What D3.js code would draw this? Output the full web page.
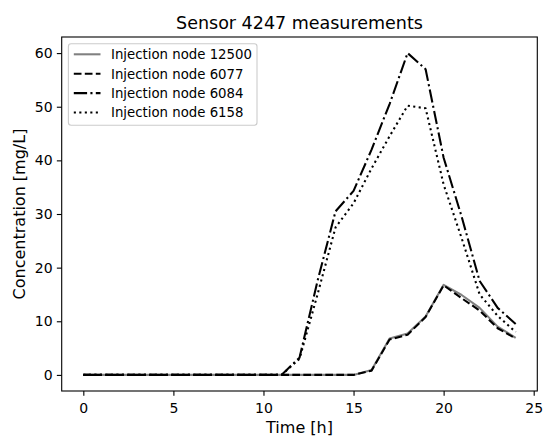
<!DOCTYPE html>
<html>
<head>
<meta charset="utf-8">
<script src="https://cdn.jsdelivr.net/npm/d3@7"></script>
<style>
html,body{margin:0;padding:0;background:#fff;}
svg{display:block;font-family:"DejaVu Sans",sans-serif;}
</style>
</head>
<body>
<svg id="chart" width="544" height="439"></svg>
<script>
const hours = [0,1,2,3,4,5,6,7,8,9,10,11,12,13,14,15,16,17,18,19,20,21,22,23,24];
const node12500 = [0,0,0,0,0,0,0,0,0,0,0,0,0,0,0,0,0.9,6.8,7.7,10.9,16.8,14.9,12.5,9.0,6.9];
const node6077  = [0,0,0,0,0,0,0,0,0,0,0,0,0,0,0,0,0.8,6.6,7.5,10.8,16.7,14.3,12.0,8.7,6.8];
const node6084  = [0,0,0,0,0,0,0,0,0,0,0,0,3.2,17.5,30.5,34.3,42.0,50.5,60.0,57.0,40.5,29.5,17.5,12.5,9.5];
const node6158  = [0,0,0,0,0,0,0,0,0,0,0,0,3.0,15.0,27.5,32.0,38.5,44.5,50.2,49.7,35.5,25.5,15.0,11.0,8.0];
const seriesNames = ["Injection node 12500","Injection node 6077","Injection node 6084","Injection node 6158"];
const xTicks = [0,5,10,15,20,25];
const yTicks = [0,10,20,30,40,50,60];

const series = [
  {name: seriesNames[0], values: node12500, color: "#808080", dash: null},
  {name: seriesNames[1], values: node6077,  color: "#000", dash: "7.7,3.3"},
  {name: seriesNames[2], values: node6084,  color: "#000", dash: "13.3,3.3,2.1,3.3"},
  {name: seriesNames[3], values: node6158,  color: "#000", dash: "2.1,3.4"}
];

const svg = d3.select("#chart");
const L = 61.7, R = 537.3, T = 37, B = 391;
const x = d3.scaleLinear().domain([-1.2, 25.2]).range([L, R]);
const y = d3.scaleLinear().domain([-3, 63]).range([B, T]);

// lines
const line = d3.line().x((d,i)=>x(hours[i])).y(d=>y(d));
const g = svg.append("g");
series.forEach(s=>{
  g.append("path").datum(s.values)
    .attr("d", line)
    .attr("fill","none")
    .attr("stroke", s.color)
    .attr("stroke-width", 2.08)
    .attr("stroke-linejoin","round")
    .attr("stroke-dasharray", s.dash);
});

// axes
const xAxis = d3.axisBottom(x).tickValues(xTicks).tickSize(4.86).tickPadding(7).tickFormat(d3.format("d"));
const yAxis = d3.axisLeft(y).tickValues(yTicks).tickSize(4.86).tickPadding(4.2).tickFormat(d3.format("d"));
const gx = svg.append("g").attr("transform", `translate(0,${B})`).call(xAxis);
const gy = svg.append("g").attr("transform", `translate(${L},0)`).call(yAxis);
[gx,gy].forEach(a=>{
  a.select(".domain").remove();
  a.selectAll(".tick line").attr("stroke","#000").attr("stroke-width",1.1);
  a.selectAll(".tick text").attr("fill","#000").style("font-size","14px").style("font-family","DejaVu Sans");
});

// frame
svg.append("rect").attr("x",L).attr("y",T).attr("width",R-L).attr("height",B-T)
  .attr("fill","none").attr("stroke","#000").attr("stroke-width",1.1);

// title & labels
svg.append("text").attr("x",(L+R)/2).attr("y",28.5).attr("text-anchor","middle")
  .style("font-size","17.5px").text("Sensor 4247 measurements");
svg.append("text").attr("x",(L+R)/2).attr("y",433).attr("text-anchor","middle")
  .style("font-size","16px").text("Time [h]");
svg.append("text").attr("transform",`translate(24.5,${(T+B)/2}) rotate(-90)`).attr("text-anchor","middle")
  .style("font-size","16px").text("Concentration [mg/L]");

// legend
const lg = svg.append("g");
lg.append("rect").attr("x",68.4).attr("y",43.7).attr("width",188.6).attr("height",81.5)
  .attr("rx",2.7).attr("fill","#fff").attr("fill-opacity",0.8).attr("stroke","#cccccc").attr("stroke-width",1.1);
const rowY = d3.scaleLinear().domain([0,3]).range([54.3,112.5]);
series.forEach((s,i)=>{
  const yy = rowY(i);
  lg.append("line").attr("x1",73.8).attr("x2",100.5).attr("y1",yy).attr("y2",yy)
    .attr("stroke",s.color).attr("stroke-width",2.08).attr("stroke-dasharray",s.dash);
  lg.append("text").attr("x",111).attr("y",yy+4.8).style("font-size","13.3px").text(s.name);
});
</script>
</body>
</html>
